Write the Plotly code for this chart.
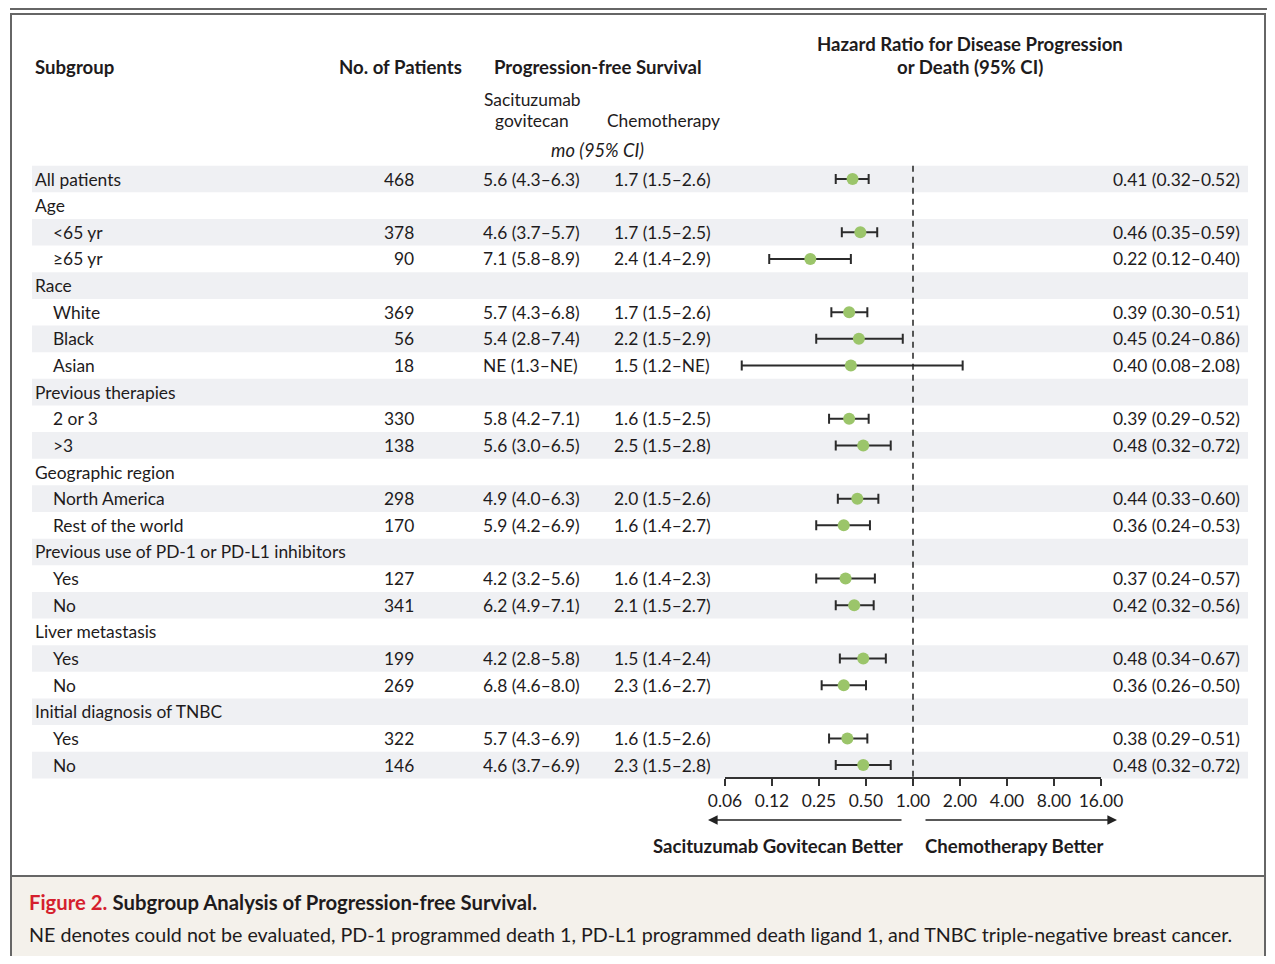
import math
import plotly.graph_objects as go

# ---------------- data ----------------
labels = ["All patients", "Age", "<65 yr", "≥65 yr", "Race", "White", "Black", "Asian",
          "Previous therapies", "2 or 3", ">3", "Geographic region", "North America",
          "Rest of the world", "Previous use of PD-1 or PD-L1 inhibitors", "Yes", "No",
          "Liver metastasis", "Yes", "No", "Initial diagnosis of TNBC", "Yes", "No"]
indent = [0, 0, 1, 1, 0, 1, 1, 1, 0, 1, 1, 0, 1, 1, 0, 1, 1, 0, 1, 1, 0, 1, 1]
n_patients = ["468", "", "378", "90", "", "369", "56", "18", "", "330", "138", "", "298",
              "170", "", "127", "341", "", "199", "269", "", "322", "146"]
pfs_sg = ["5.6 (4.3–6.3)", "", "4.6 (3.7–5.7)", "7.1 (5.8–8.9)", "", "5.7 (4.3–6.8)",
          "5.4 (2.8–7.4)", "NE (1.3–NE)", "", "5.8 (4.2–7.1)", "5.6 (3.0–6.5)", "",
          "4.9 (4.0–6.3)", "5.9 (4.2–6.9)", "", "4.2 (3.2–5.6)", "6.2 (4.9–7.1)", "",
          "4.2 (2.8–5.8)", "6.8 (4.6–8.0)", "", "5.7 (4.3–6.9)", "4.6 (3.7–6.9)"]
pfs_chemo = ["1.7 (1.5–2.6)", "", "1.7 (1.5–2.5)", "2.4 (1.4–2.9)", "", "1.7 (1.5–2.6)",
             "2.2 (1.5–2.9)", "1.5 (1.2–NE)", "", "1.6 (1.5–2.5)", "2.5 (1.5–2.8)", "",
             "2.0 (1.5–2.6)", "1.6 (1.4–2.7)", "", "1.6 (1.4–2.3)", "2.1 (1.5–2.7)", "",
             "1.5 (1.4–2.4)", "2.3 (1.6–2.7)", "", "1.6 (1.5–2.6)", "2.3 (1.5–2.8)"]
hr = [0.41, None, 0.46, 0.22, None, 0.39, 0.45, 0.40, None, 0.39, 0.48, None, 0.44, 0.36,
      None, 0.37, 0.42, None, 0.48, 0.36, None, 0.38, 0.48]
hr_lo = [0.32, None, 0.35, 0.12, None, 0.30, 0.24, 0.08, None, 0.29, 0.32, None, 0.33, 0.24,
         None, 0.24, 0.32, None, 0.34, 0.26, None, 0.29, 0.32]
hr_hi = [0.52, None, 0.59, 0.40, None, 0.51, 0.86, 2.08, None, 0.52, 0.72, None, 0.60, 0.53,
         None, 0.57, 0.56, None, 0.67, 0.50, None, 0.51, 0.72]
tick_vals = [0.0625, 0.125, 0.25, 0.5, 1, 2, 4, 8, 16]
tick_text = ["0.06", "0.12", "0.25", "0.50", "1.00", "2.00", "4.00", "8.00", "16.00"]

# ---------------- geometry (screen pixels, page body has an 8px margin) ----------------
OFF = 8
W, H = 1275 - 2 * OFF, 964 - 2 * OFF
ROW0, DY = 179.0, 26.64
FONT = "Lato"
TXT = "#1e1b1c"
GREEN = "#9bc56a"
SHADE = "#eff0f3"
BODY = 17.4
HEAD = 18.6
RIGHT = 1265  # right frame edge (screen px)


def px(x):
    return (x - OFF) / W


def py(p):
    return 1 - (p - OFF) / H


def ry(p):  # screen pixel y -> row coordinate
    return (p - ROW0) / DY


nrows = len(labels)
rows = list(range(nrows))

fig = go.Figure()

# forest points
xs, ys, ep, em = [], [], [], []
for i in rows:
    if hr[i] is not None:
        xs.append(hr[i])
        ys.append(i)
        ep.append(hr_hi[i] - hr[i])
        em.append(hr[i] - hr_lo[i])
fig.add_trace(go.Scatter(
    x=xs, y=ys, mode="markers",
    marker=dict(size=12, color=GREEN, line=dict(width=0)),
    error_x=dict(type="data", symmetric=False, array=ep, arrayminus=em,
                 color="#2b2b2b", thickness=2, width=5),
    showlegend=False, hoverinfo="skip"))

shapes = []
annotations = []

# row shading
for i in rows:
    if i % 2 == 0:
        shapes.append(dict(type="rect", xref="paper", yref="y", x0=px(32), x1=px(1248),
                           y0=i - 0.5, y1=i + 0.5, fillcolor=SHADE, line=dict(width=0),
                           layer="below"))

# dashed reference line at HR = 1
shapes.append(dict(type="line", xref="x", yref="y", x0=1, x1=1, y0=-0.5, y1=ry(778),
                   line=dict(color="#222", width=1.5, dash="6px,5px")))

# caption background and frame
shapes.append(dict(type="rect", xref="paper", yref="paper", x0=px(11), x1=px(RIGHT),
                   y0=py(876), y1=py(985), fillcolor="#f4f1eb", line=dict(width=0),
                   layer="below"))
shapes.append(dict(type="line", xref="paper", yref="paper", x0=px(10), x1=1, y0=py(9), y1=py(9),
                   line=dict(color="#333", width=1.5)))
shapes.append(dict(type="rect", xref="paper", yref="paper", x0=px(11), x1=px(RIGHT),
                   y0=py(14), y1=py(990), line=dict(color="#666", width=2)))
shapes.append(dict(type="line", xref="paper", yref="paper", x0=px(11), x1=px(RIGHT),
                   y0=py(876), y1=py(876), line=dict(color="#666", width=2)))


def ann(text, x, y, xanchor="left", size=BODY, bold=False, italic=False, color=TXT, yref="y"):
    t = text
    if bold:
        t = "<b>" + t + "</b>"
    if italic:
        t = "<i>" + t + "</i>"
    annotations.append(dict(text=t, x=x, y=y, xref="paper", yref=yref, xanchor=xanchor,
                            yanchor="middle", showarrow=False,
                            font=dict(family=FONT, size=size, color=color)))


# headers
ann("Subgroup", px(33), ry(67), bold=True, size=HEAD)
ann("No. of Patients", px(464), ry(67), xanchor="right", bold=True, size=HEAD)
ann("Progression-free Survival", px(598), ry(67), xanchor="center", bold=True, size=HEAD)
ann("Hazard Ratio for Disease Progression", px(970), ry(44), xanchor="center", bold=True, size=HEAD)
ann("or Death (95% CI)", px(970), ry(67), xanchor="center", bold=True, size=HEAD)
ann("Sacituzumab", px(532), ry(99), xanchor="center")
ann("govitecan", px(532), ry(120), xanchor="center")
ann("Chemotherapy", px(663), ry(120), xanchor="center")
ann("mo (95% CI)", px(597), ry(150), xanchor="center", italic=True, size=18.3)

# rows
for i in rows:
    ann(labels[i], px(51 if indent[i] else 33), i)
    if n_patients[i]:
        ann(n_patients[i], px(416), i, xanchor="right")
    if pfs_sg[i]:
        ann(pfs_sg[i], px(481), i)
    if pfs_chemo[i]:
        ann(pfs_chemo[i], px(612), i)
    if hr[i] is not None:
        ann(f"{hr[i]:.2f} ({hr_lo[i]:.2f}–{hr_hi[i]:.2f})", px(1242), i, xanchor="right")

# arrows and direction labels
annotations.append(dict(x=px(708), y=ry(820), xref="paper", yref="y", ax=195, ay=0,
                        axref="pixel", ayref="pixel", showarrow=True, arrowhead=2,
                        arrowsize=1.2, arrowwidth=1.6, arrowcolor="#222", text=""))
annotations.append(dict(x=px(1117), y=ry(820), xref="paper", yref="y", ax=-193, ay=0,
                        axref="pixel", ayref="pixel", showarrow=True, arrowhead=2,
                        arrowsize=1.2, arrowwidth=1.6, arrowcolor="#222", text=""))
ann("Sacituzumab Govitecan Better", px(905), ry(846), xanchor="right", bold=True, size=HEAD)
ann("Chemotherapy Better", px(923), ry(846), bold=True, size=HEAD)

# caption
annotations.append(dict(
    text="<span style='color:#d51f2e'><b>Figure 2.</b></span> <b>Subgroup Analysis of Progression-free Survival.</b>",
    x=px(27), y=py(902), xref="paper", yref="paper", xanchor="left", yanchor="middle",
    showarrow=False, font=dict(family=FONT, size=20.3, color=TXT)))
annotations.append(dict(
    text="NE denotes could not be evaluated, PD-1 programmed death 1, PD-L1 programmed death ligand 1, and TNBC triple-negative breast cancer.",
    x=px(27), y=py(934), xref="paper", yref="paper", xanchor="left", yanchor="middle",
    showarrow=False, font=dict(family=FONT, size=19.7, color=TXT)))

fig.update_layout(
    width=W, height=H,
    margin=dict(l=0, r=0, t=0, b=0, autoexpand=False),
    paper_bgcolor="white", plot_bgcolor="rgba(0,0,0,0)",
    shapes=shapes, annotations=annotations,
    xaxis=dict(type="log", range=[math.log10(0.0625), math.log10(16)],
               domain=[px(725), px(1101)], anchor="free", position=py(778),
               tickvals=tick_vals, ticktext=tick_text, ticks="outside", ticklen=7,
               tickwidth=1.5, tickcolor="#333", showline=True, linecolor="#333",
               linewidth=1.5, showgrid=False, zeroline=False, automargin=False,
               tickfont=dict(family=FONT, size=BODY, color=TXT)),
    yaxis=dict(range=[ry(H + OFF), ry(OFF)], domain=[0, 1], visible=False, showgrid=False,
               zeroline=False, automargin=False),
    font=dict(family=FONT, color=TXT),
)

fig.write_html("out.html", config={"responsive": False})
